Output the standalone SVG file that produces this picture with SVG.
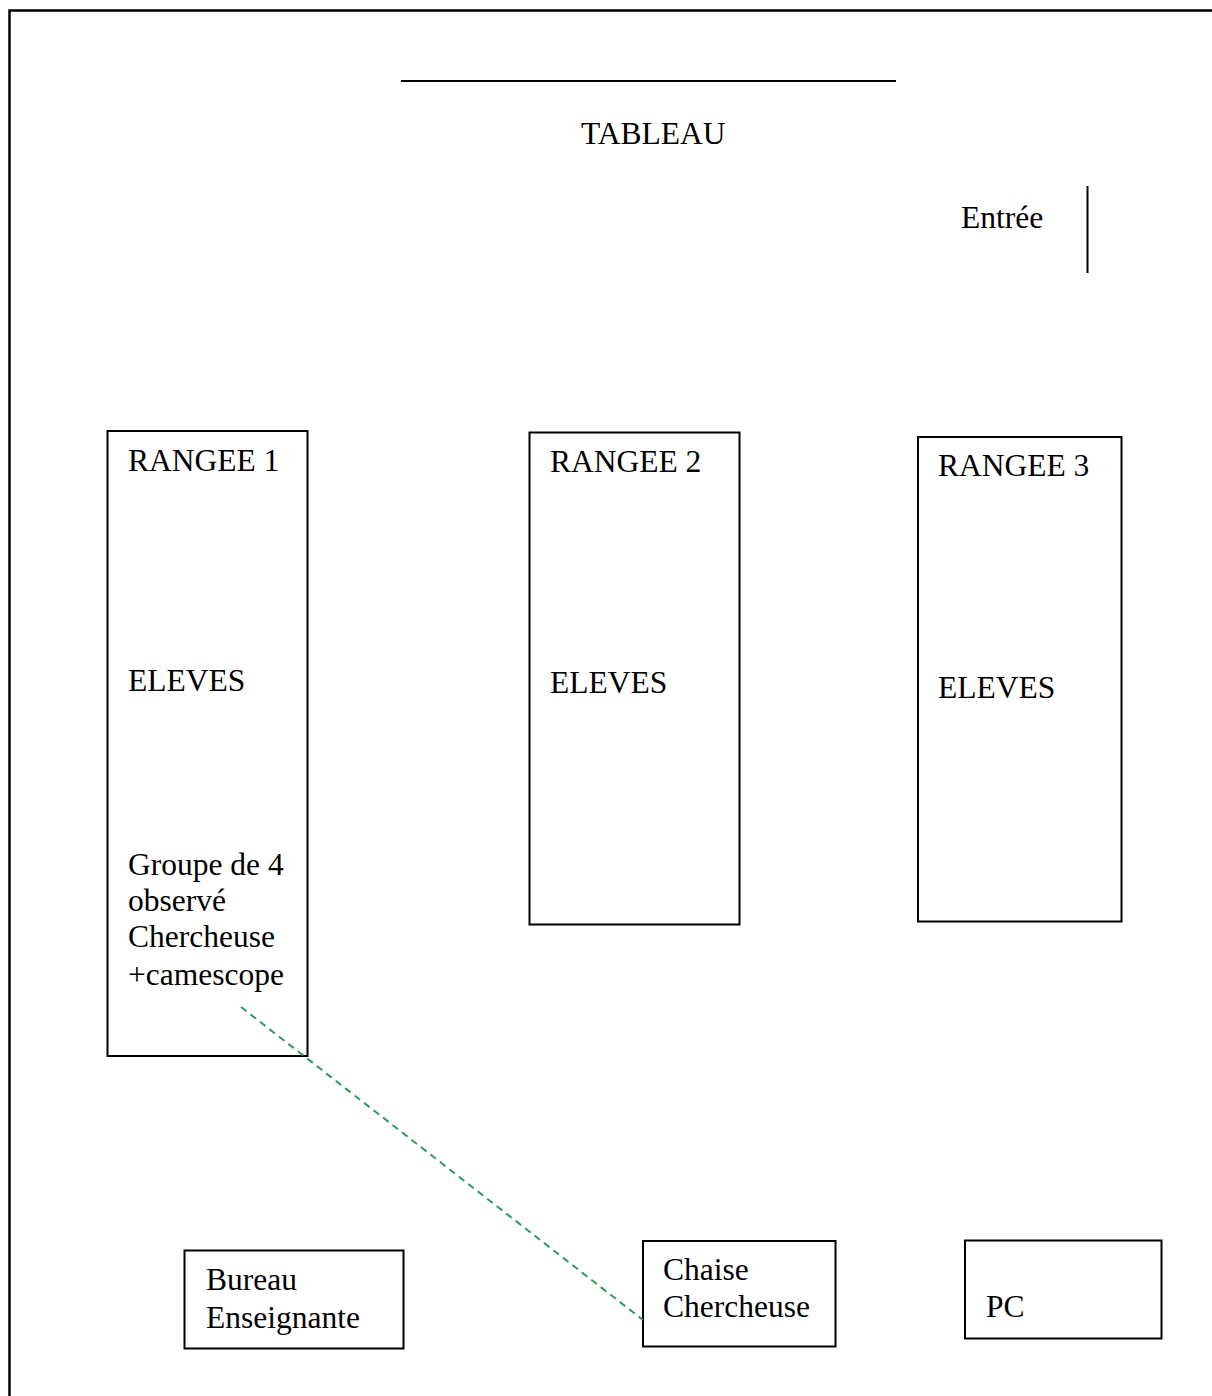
<svg xmlns="http://www.w3.org/2000/svg" width="1212" height="1396" viewBox="0 0 1212 1396">
  <style>
    .box { fill: #ffffff; stroke: #000000; stroke-width: 2; }
    .wall { fill: none; stroke: #000000; stroke-width: 2.5; }
    .line { stroke: #000000; stroke-width: 2; fill: none; }
    .lbl { font-family: "Liberation Serif", "Times New Roman", serif; font-size: 31.5px; fill: #000000; }
    .dash { stroke: #2e9a5e; stroke-width: 2; stroke-dasharray: 7 5; fill: none; }
  </style>
  <rect x="0" y="0" width="1212" height="1396" fill="#ffffff"/>
  <g id="room">
    <rect class="wall" x="9.5" y="10.5" width="1220" height="1420"/>
  </g>
  <g id="tableau">
    <line class="line" x1="401" y1="81" x2="896" y2="81"/>
    <text class="lbl" x="581" y="144">TABLEAU</text>
  </g>
  <g id="entree">
    <text class="lbl" x="961" y="228">Entrée</text>
    <line class="line" x1="1087.5" y1="186" x2="1087.5" y2="273"/>
  </g>
  <g id="rangee1">
    <rect class="box" x="107.5" y="431" width="200" height="625"/>
    <text class="lbl" x="128" y="471">RANGEE 1</text>
    <text class="lbl" x="128" y="691">ELEVES</text>
    <text class="lbl" x="128" y="875">Groupe de 4</text>
    <text class="lbl" x="128" y="911">observé</text>
    <text class="lbl" x="128" y="947">Chercheuse</text>
    <text class="lbl" x="128" y="985">+camescope</text>
  </g>
  <g id="rangee2">
    <rect class="box" x="529.5" y="432.5" width="210" height="492"/>
    <text class="lbl" x="550" y="472">RANGEE 2</text>
    <text class="lbl" x="550" y="693">ELEVES</text>
  </g>
  <g id="rangee3">
    <rect class="box" x="918" y="437" width="203.5" height="484.5"/>
    <text class="lbl" x="938" y="476">RANGEE 3</text>
    <text class="lbl" x="938" y="698">ELEVES</text>
  </g>
  <g id="bureau">
    <rect class="box" x="184.5" y="1250.5" width="219" height="98"/>
    <text class="lbl" x="206" y="1290">Bureau</text>
    <text class="lbl" x="206" y="1328">Enseignante</text>
  </g>
  <g id="chaise">
    <rect class="box" x="643" y="1241" width="192.5" height="105.5"/>
    <text class="lbl" x="663" y="1280">Chaise</text>
    <text class="lbl" x="663" y="1317">Chercheuse</text>
  </g>
  <g id="pc">
    <rect class="box" x="965" y="1240.5" width="196.5" height="98"/>
    <text class="lbl" x="986" y="1317">PC</text>
  </g>
  <g id="connectors">
    <line class="dash" x1="241" y1="1007" x2="643" y2="1320"/>
  </g>
</svg>
